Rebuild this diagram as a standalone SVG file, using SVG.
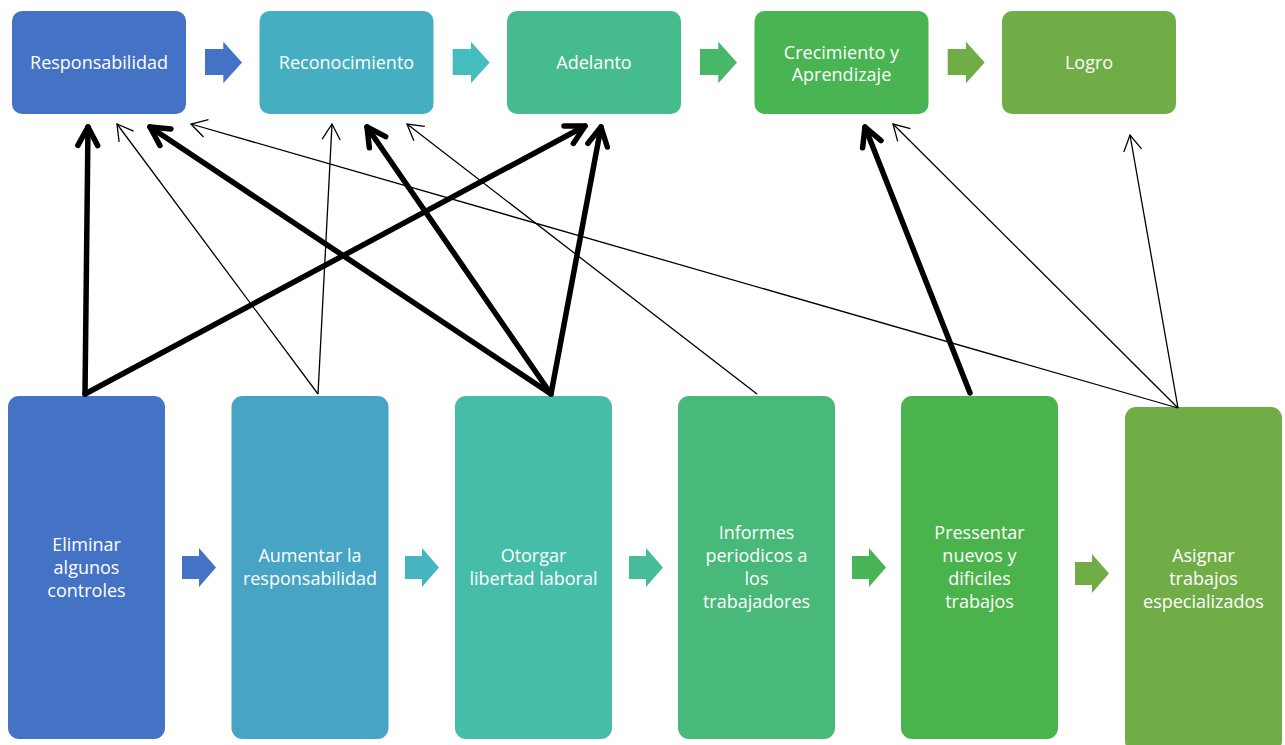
<svg xmlns="http://www.w3.org/2000/svg" xmlns:xlink="http://www.w3.org/1999/xlink" width="1285" height="745" viewBox="0 0 1285 745">
<style>
.lbl{font-family:"Open Sans","Noto Sans","Liberation Sans",sans-serif;font-size:18px;fill:#ffffff;text-anchor:middle}
.thick{stroke:#000;stroke-width:5.5;fill:none;stroke-linecap:round;marker-end:url(#hThick)}
.thin{stroke:#000;stroke-width:1.3;fill:none;marker-end:url(#hThin)}
</style>
<defs>
<marker id="hThick" markerUnits="userSpaceOnUse" orient="auto" refX="0" refY="0" markerWidth="40" markerHeight="40" overflow="visible">
<path d="M -18.5 -9.9 L 0 0 L -18.5 9.9" fill="none" stroke="#000" stroke-width="5.5" stroke-linecap="round" stroke-linejoin="round"/>
</marker>
<marker id="hThin" markerUnits="userSpaceOnUse" orient="auto" refX="0" refY="0" markerWidth="40" markerHeight="40" overflow="visible">
<path d="M -15.6 -9 L 0 0 L -15.6 9" fill="none" stroke="#000" stroke-width="1.3"/>
</marker>
<path id="chevTop" d="M0 7.3 H18.3 V0 L37 20.8 L18.3 41.6 V33.3 H0 Z"/>
<path id="chevBot" d="M0 8 H17 V0 L34 19.5 L17 39 V31 H0 Z"/>
</defs>
<rect width="1285" height="745" fill="#ffffff"/>

<g id="top-chevrons">
<use xlink:href="#chevTop" x="205" y="41.7" fill="#4472C4"/>
<use xlink:href="#chevTop" x="452.7" y="41.7" fill="#45BDBF"/>
<use xlink:href="#chevTop" x="700" y="41.7" fill="#48B767"/>
<use xlink:href="#chevTop" x="947.7" y="41.7" fill="#71AD47"/>
</g>
<g id="bottom-chevrons">
<use xlink:href="#chevBot" x="182" y="548" fill="#4472C4"/>
<use xlink:href="#chevBot" x="405" y="548" fill="#45B5C1"/>
<use xlink:href="#chevBot" x="629" y="548" fill="#46BC9B"/>
<use xlink:href="#chevBot" x="852" y="548" fill="#49B456"/>
<use xlink:href="#chevBot" x="1075" y="554" fill="#71AD47"/>
</g>

<g id="n-responsabilidad"><rect x="12" y="11" width="174" height="103" rx="10" fill="#4472C4"/><text class="lbl" x="99" y="69">Responsabilidad</text></g>
<g id="n-reconocimiento"><rect x="259.5" y="11" width="174" height="103" rx="10" fill="#46AEC1"/><text class="lbl" x="346.5" y="69">Reconocimiento</text></g>
<g id="n-adelanto"><rect x="507" y="11" width="174" height="103" rx="10" fill="#46BC8E"/><text class="lbl" x="594" y="69">Adelanto</text></g>
<g id="n-crecimiento"><rect x="754.5" y="11" width="174" height="103" rx="10" fill="#48B452"/><text class="lbl" x="841.5" y="58.5">Crecimiento y</text><text class="lbl" x="841.5" y="80.5">Aprendizaje</text></g>
<g id="n-logro"><rect x="1002" y="11" width="174" height="103" rx="10" fill="#71AD47"/><text class="lbl" x="1089" y="69">Logro</text></g>

<g id="n-eliminar"><rect x="8" y="396" width="157" height="343" rx="11" fill="#4472C4"/><text class="lbl" x="86.5" y="551">Eliminar</text><text class="lbl" x="86.5" y="574">algunos</text><text class="lbl" x="86.5" y="597">controles</text></g>
<g id="n-aumentar"><rect x="231.5" y="396" width="157" height="343" rx="11" fill="#47A4C4"/><text class="lbl" x="310" y="562">Aumentar la</text><text class="lbl" x="310" y="585">responsabilidad</text></g>
<g id="n-otorgar"><rect x="455" y="396" width="157" height="343" rx="11" fill="#46BDA8"/><text class="lbl" x="533.5" y="562">Otorgar</text><text class="lbl" x="533.5" y="585">libertad laboral</text></g>
<g id="n-informes"><rect x="678" y="396" width="157" height="343" rx="11" fill="#48B978"/><text class="lbl" x="756.5" y="539">Informes</text><text class="lbl" x="756.5" y="562">periodicos a</text><text class="lbl" x="756.5" y="585">los</text><text class="lbl" x="756.5" y="608">trabajadores</text></g>
<g id="n-pressentar"><rect x="901" y="396" width="157" height="343" rx="11" fill="#4AB34B"/><text class="lbl" x="979.5" y="539">Pressentar</text><text class="lbl" x="979.5" y="562">nuevos y</text><text class="lbl" x="979.5" y="585">dificiles</text><text class="lbl" x="979.5" y="608">trabajos</text></g>
<g id="n-asignar"><rect x="1125" y="407" width="157" height="345" rx="11" fill="#71AD47"/><text class="lbl" x="1203.5" y="562">Asignar</text><text class="lbl" x="1203.5" y="585">trabajos</text><text class="lbl" x="1203.5" y="608">especializados</text></g>

<g id="connectors">
<line class="thin" x1="318" y1="394" x2="117" y2="124"/>
<line class="thin" x1="318" y1="394" x2="332" y2="124"/>
<line class="thin" x1="757" y1="394" x2="407" y2="124"/>
<line class="thin" x1="1178" y1="408" x2="191" y2="124"/>
<line class="thin" x1="1178" y1="408" x2="893" y2="124"/>
<line class="thin" x1="1178" y1="408" x2="1130" y2="135"/>
<line class="thick" x1="85" y1="394" x2="88" y2="127"/>
<line class="thick" x1="85" y1="394" x2="585" y2="126"/>
<line class="thick" x1="551" y1="394" x2="150" y2="127"/>
<line class="thick" x1="551" y1="394" x2="367" y2="127"/>
<line class="thick" x1="551" y1="394" x2="601" y2="127"/>
<line class="thick" x1="970" y1="393" x2="865" y2="127"/>
</g>
</svg>
